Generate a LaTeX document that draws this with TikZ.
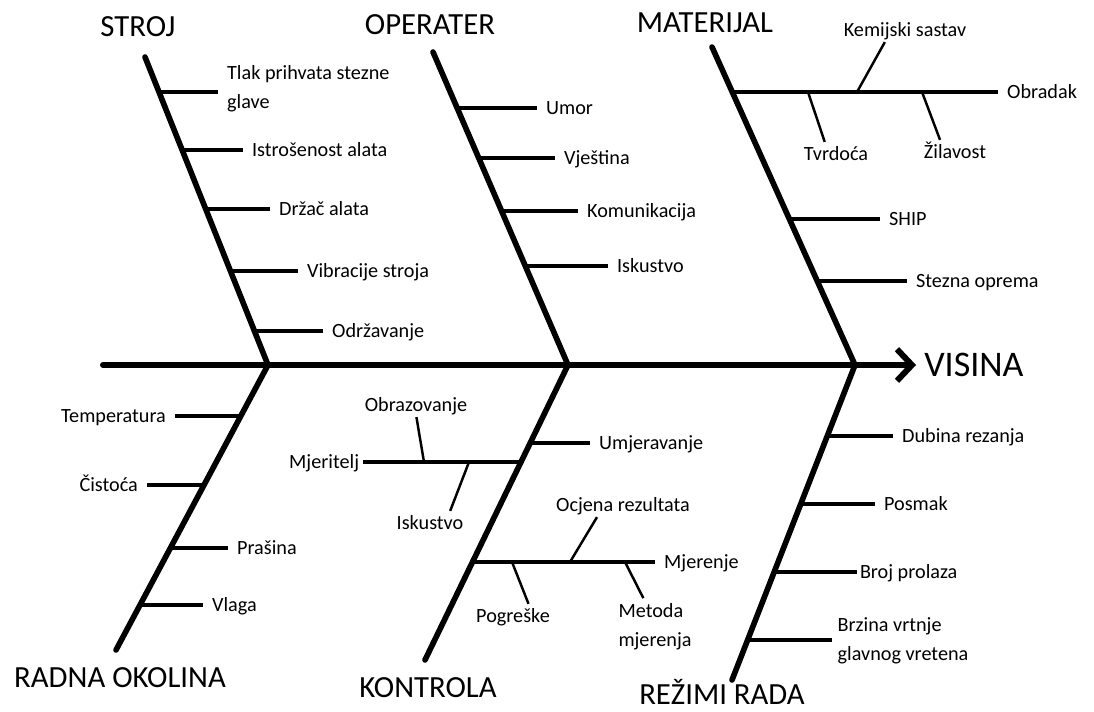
\documentclass[tikz,border=0pt]{standalone}
\usepackage{fontspec}
\setmainfont{Carlito}
\usetikzlibrary{arrows.meta}
\usetikzlibrary{positioning}

\tikzset{
  spine/.style={line width=3.4pt, line cap=round},
  bone/.style={line width=3.2pt, line cap=round, line join=round},
  twig/.style={line width=1.8pt},
  sprig/.style={line width=1.4pt},
  cause/.style={font=\fontsize{11.5}{14}\selectfont, inner xsep=5pt, inner ysep=3pt, text height=7.4pt, text depth=0pt},
  cause2/.style={font=\fontsize{11.5}{16.5}\selectfont, inner xsep=5pt, inner ysep=3pt, align=left},
  head/.style={font=\fontsize{17.5}{21}\selectfont, inner sep=0pt},
}

\begin{document}
\begin{tikzpicture}[x=0.02cm, y=-0.02cm]
    \useasboundingbox (0,0) rectangle (1094,712);

    % spine
    \coordinate (tail) at (103,365);
    \coordinate (h1) at (268,365);
    \coordinate (h2) at (568,365);
    \coordinate (h3) at (855,365);
    \node [head, font=\fontsize{20.5}{24}\selectfont, inner sep=1.5pt, anchor=west] (out) at (916,365) {\hspace{3pt}VISINA};
    \draw [spine, -{Straight Barb[length=8.5pt, width=18pt]}] (tail) -- (out);

    % bones
    \coordinate (s1) at (145,57);
    \coordinate (s2) at (433,52);
    \coordinate (s3) at (712,47);
    \coordinate (r1) at (116,650);
    \coordinate (r2) at (425,660);
    \coordinate (r3) at (732,680);
    \draw [bone] (s1) -- (h1) -- (r1);
    \draw [bone] (s2) -- (h2) -- (r2);
    \draw [bone] (s3) -- (h3) -- (r3);

    \node [head] (stroj) at (138,27) {STROJ};
    \node [head] (oper) at (430,25) {OPERATER};
    \node [head] (mat) at (705,23) {MATERIJAL};
    \node [head] (okol) at (120,678) {RADNA OKOLINA};
    \node [head] (kontr) at (428,688) {KONTROLA};
    \node [head] (rezim) at (722,692) {REŽIMI RADA};

    % STROJ
    \coordinate (a1) at (159.0,92);
    \coordinate (a2) at (182.1,150);
    \coordinate (a3) at (205.7,209);
    \coordinate (a4) at (230.5,271);
    \coordinate (a5) at (254.4,331);
    \node [cause2, anchor=west] (ta1) at (218,89) {Tlak prihvata stezne\\glave};
    \node [cause, anchor=west] (ta2) at (243,150) {Istrošenost alata};
    \node [cause, anchor=west] (ta3) at (270,209) {Držač alata};
    \node [cause, anchor=west] (ta4) at (298,271) {Vibracije stroja};
    \node [cause, anchor=west] (ta5) at (323,331) {Održavanje};
    \draw [twig] (a1) -- (a1 -| ta1.west);
    \draw [twig] (a2) -- (ta2);
    \draw [twig] (a3) -- (ta3);
    \draw [twig] (a4) -- (ta4);
    \draw [twig] (a5) -- (ta5);

    % OPERATER
    \coordinate (b1) at (457.2,108);
    \coordinate (b2) at (478.7,158);
    \coordinate (b3) at (501.6,211);
    \coordinate (b4) at (525.3,266);
    \node [cause, anchor=west] (tb1) at (537,108) {Umor};
    \node [cause, anchor=west] (tb2) at (555,158) {Vještina};
    \node [cause, anchor=west] (tb3) at (578,211) {Komunikacija};
    \node [cause, anchor=west] (tb4) at (608,266) {Iskustvo};
    \draw [twig] (b1) -- (tb1);
    \draw [twig] (b2) -- (tb2);
    \draw [twig] (b3) -- (tb3);
    \draw [twig] (b4) -- (tb4);

    % MATERIJAL
    \coordinate (c1) at (732.2,92);
    \coordinate (c2) at (789.3,219);
    \coordinate (c3) at (817.2,281);
    \node [cause, anchor=west] (tc1) at (998,92) {Obradak};
    \node [cause, anchor=west] (tc2) at (880,219) {SHIP};
    \node [cause, anchor=west] (tc3) at (907,281) {Stezna oprema};
    \draw [twig] (c1) -- (tc1);
    \draw [twig] (c2) -- (tc2);
    \draw [twig] (c3) -- (tc3);
    \coordinate (k1) at (857,92);
    \coordinate (k2) at (808,92);
    \coordinate (k3) at (922,92);
    \node [cause] (kem) at (905,30) {Kemijski sastav};
    \node [cause] (tvr) at (836,154) {Tvrdoća};
    \node [cause] (zil) at (955,152) {Žilavost};
    \draw [sprig] (k1) -- (kem.211);
    \draw [sprig] (k2) -- (tvr.133);
    \draw [sprig] (k3) -- (zil.141);

    % RADNA OKOLINA
    \coordinate (d1) at (240.8,416);
    \coordinate (d2) at (204.0,485);
    \coordinate (d3) at (170.4,548);
    \coordinate (d4) at (140.0,605);
    \node [cause, anchor=east] (td1) at (175,416) {Temperatura};
    \node [cause, anchor=east] (td2) at (147,485) {Čistoća};
    \node [cause, anchor=west] (td3) at (228,548) {Prašina};
    \node [cause, anchor=west] (td4) at (203,605) {Vlaga};
    \draw [twig] (d1) -- (td1);
    \draw [twig] (d2) -- (td2);
    \draw [twig] (d3) -- (td3);
    \draw [twig] (d4) -- (td4);

    % KONTROLA
    \coordinate (e1) at (530.2,443);
    \coordinate (e2) at (521.0,462);
    \coordinate (e3) at (472.5,562);
    \node [cause, anchor=west] (te1) at (590,443) {Umjeravanje};
    \node [cause, anchor=east, inner xsep=2pt] (te2) at (363,462) {Mjeritelj};
    \node [cause, anchor=west] (te3) at (655,562) {Mjerenje};
    \draw [twig] (e1) -- (te1);
    \draw [twig] (e2) -- (te2);
    \draw [twig] (e3) -- (te3);
    \coordinate (m1) at (424,462);
    \coordinate (m2) at (469,462);
    \coordinate (m3) at (570,562);
    \coordinate (m4) at (512,562);
    \coordinate (m5) at (625,562);
    \node [cause] (obr) at (416,405) {Obrazovanje};
    \node [cause] (isk) at (430,523) {Iskustvo};
    \node [cause] (ocj) at (623,505) {Ocjena rezultata};
    \node [cause] (pog) at (513,616) {Pogreške};
    \node [cause2] (met) at (655,627) {Metoda\\mjerenja};
    \draw [sprig] (m1) -- (obr.272);
    \draw [sprig] (m2) -- (isk.31);
    \draw [sprig] (m3) -- (ocj.205);
    \draw [sprig] (m4) -- (pog.38);
    \draw [sprig] (m5) -- (met.112);

    % REZIMI RADA
    \coordinate (f1) at (827.3,436);
    \coordinate (f2) at (800.7,504);
    \coordinate (f3) at (774.2,572);
    \coordinate (f4) at (747.6,640);
    \node [cause, anchor=west] (tf1) at (893,436) {Dubina rezanja};
    \node [cause, anchor=west] (tf2) at (875,504) {Posmak};
    \node [cause, anchor=west, inner xsep=1.5pt] (tf3) at (857,572) {Broj prolaza};
    \node [cause2, anchor=west, inner xsep=3pt] (tf4) at (832,641) {Brzina vrtnje\\glavnog vretena};
    \draw [twig] (f1) -- (tf1);
    \draw [twig] (f2) -- (tf2);
    \draw [twig] (f3) -- (tf3);
    \draw [twig] (f4) -- (f4 -| tf4.west);
\end{tikzpicture}
\end{document}
